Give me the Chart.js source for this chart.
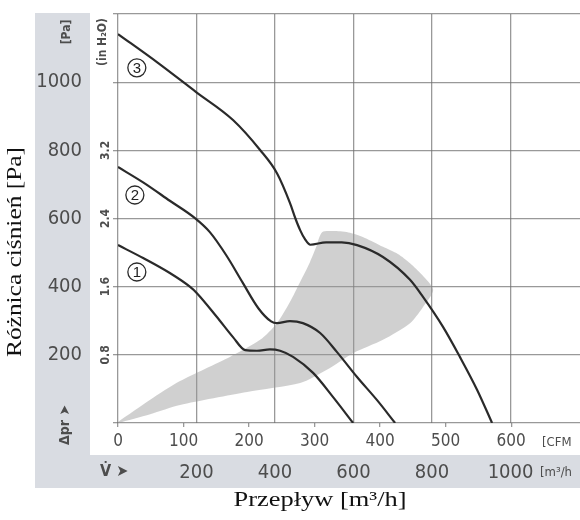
<!DOCTYPE html>
<html>
<head>
<meta charset="utf-8">
<script src="https://cdn.jsdelivr.net/npm/chart.js@4.4.1/dist/chart.umd.min.js"></script>
<style>
  html, body { margin: 0; padding: 0; background: #fff; }
  #wrap { width: 580px; height: 520px; }
</style>
</head>
<body>
<div id="wrap"><canvas id="chart" width="580" height="520"></canvas></div>
<script>
// curve 1
const flow1 = [0, 64, 132, 183, 201, 252, 293, 324, 354, 387, 413, 446, 497, 548, 599];
const dp1 = [522, 484, 440, 400, 381, 311, 252, 214, 212, 216, 212, 194, 147, 76, 0];
// curve 2
const flow2 = [0, 64, 132, 196, 234, 277, 318, 358, 390, 405, 438, 471, 515, 558, 609, 660, 706];
const dp2 = [751, 706, 652, 601, 560, 490, 411, 336, 298, 293, 299, 293, 264, 208, 135, 67, 0];
// curve 3
const flow3 = [0, 100, 199, 293, 362, 405, 438, 452, 464, 476, 490, 530, 570, 609, 675, 744, 777, 828, 871, 915, 953];
const dp3 = [1141, 1058, 971, 889, 801, 733, 646, 600, 566, 540, 523, 530, 530, 522, 487, 420, 370, 282, 194, 97, 0];

// szary obszar pracy
const zoneFlow = [0, 82, 158, 285, 362, 405, 438, 464, 489, 504, 520, 553, 591, 629, 675, 713, 744, 775, 803, 775, 744, 675, 599, 532, 464, 329, 158, 82, 0];
const zoneDp = [3, 68, 123, 194, 244, 293, 355, 414, 472, 514, 560, 563, 558, 543, 517, 496, 469, 434, 390, 337, 293, 244, 205, 156, 117, 91, 53, 26, 0];

// numery krzywych
const markFlow = [48, 43, 48];
const markDp = [443, 669, 1042];
const markText = ["1", "2", "3"];

// osie
const paTicks = [0, 200, 400, 600, 800, 1000, 1200];
const paLabels = ["", "200", "400", "600", "800", "1000", ""];
const inH2OLabels = ["0.8", "1.6", "2.4", "3.2"];
const inH2OAt = [200, 400, 600, 800];
const m3hTicks = [0, 200, 400, 600, 800, 1000];
const m3hLabels = ["", "200", "400", "600", "800", "1000"];
const cfmTicks = [0, 100, 200, 300, 400, 500, 600];
const cfmLabels = ["0", "100", "200", "300", "400", "500", "600"];

const pts = (xs, ys) => xs.map((x, i) => ({ x, y: ys[i] }));

const NARROW = "'Liberation Sans Narrow', 'DejaVu Sans Condensed', sans-serif";
const GRID = "rgba(110,110,110,0.7)";
const INK = "#4d4d4d";

const noPad = (s) => { s.paddingTop = 0; s.paddingBottom = 0; s.paddingLeft = 0; s.paddingRight = 0; };

function rotText(ctx, text, x, y, font, color) {
  ctx.save();
  ctx.translate(x, y);
  ctx.rotate(-Math.PI / 2);
  ctx.font = font;
  ctx.fillStyle = color;
  ctx.textAlign = "center";
  ctx.textBaseline = "middle";
  ctx.fillText(text, 0, 0);
  ctx.restore();
}

function fitText(ctx, text, x, y, font, width, rotate) {
  ctx.save();
  ctx.font = font;
  const w = ctx.measureText(text).width;
  ctx.translate(x, y);
  if (rotate) ctx.rotate(-Math.PI / 2);
  ctx.scale(width / w, 1);
  ctx.fillStyle = "#111";
  ctx.textAlign = "center";
  ctx.textBaseline = "middle";
  ctx.fillText(text, 0, 0);
  ctx.restore();
}

const frame = {
  id: "frame",
  beforeDraw(chart) {
    const { ctx, chartArea, scales } = chart;
    const bandLeft = 35, bandInner = 90;
    const top = chartArea.top - 1;
    const innerBottom = scales.cfm.bottom;
    const bottom = scales.x.bottom;
    ctx.save();
    ctx.fillStyle = "#d9dce2";
    ctx.fillRect(bandLeft, top, chart.width - bandLeft, bottom - top);
    ctx.fillStyle = "#fff";
    ctx.fillRect(bandInner, top, chart.width - bandInner, innerBottom - top);
    ctx.restore();
  },
  afterDatasetsDraw(chart) {
    const { ctx } = chart;
    const meta = chart.getDatasetMeta(3);
    ctx.save();
    ctx.font = "15px 'Liberation Sans', sans-serif";
    ctx.fillStyle = "#222";
    ctx.textAlign = "center";
    ctx.textBaseline = "middle";
    meta.data.forEach((p, i) => ctx.fillText(markText[i], p.x, p.y + 1));
    ctx.restore();
  },
  afterDraw(chart) {
    const { ctx, chartArea, scales } = chart;
    const y = scales.y;
    inH2OLabels.forEach((t, i) => {
      rotText(ctx, t, chartArea.left - 12, y.getPixelForValue(inH2OAt[i]), "bold 12px " + NARROW, INK);
    });
    rotText(ctx, "(in H\u2082O)", chartArea.left - 15, 42, "bold 12px " + NARROW, INK);
    rotText(ctx, "[Pa]", 67, 32, "bold 12px " + NARROW, INK);
    rotText(ctx, "\u0394pr \u27A4", 65, 425, "bold 14px " + NARROW, INK);
    ctx.save();
    ctx.fillStyle = INK;
    ctx.textBaseline = "middle";
    ctx.textAlign = "left";
    ctx.font = "bold 16px " + NARROW;
    ctx.fillText("V\u0307 \u27A4", 100, 472);
    ctx.font = "13px " + NARROW;
    ctx.fillText("[CFM", 542, 443);
    ctx.fillText("[m\u00B3/h", 540, 473);
    ctx.restore();
    fitText(ctx, "Przep\u0142yw [m\u00B3/h]", 320, 500, "21px 'Liberation Serif', serif", 173, false);
    fitText(ctx, "R\u00F3\u017Cnica ci\u015Bnie\u0144 [Pa]", 15, 252, "21px 'Liberation Serif', serif", 210, true);
  }
};

const curve = (xs, ys) => ({
  type: "line",
  data: pts(xs, ys),
  xAxisID: "x",
  yAxisID: "y",
  borderColor: "#2a2a2a",
  borderWidth: 2.2,
  pointRadius: 0,
  cubicInterpolationMode: "monotone",
  fill: false,
  order: 1
});

new Chart(document.getElementById("chart"), {
  type: "scatter",
  data: {
    datasets: [
      curve(flow1, dp1),
      curve(flow2, dp2),
      curve(flow3, dp3),
      {
        data: pts(markFlow, markDp),
        xAxisID: "x",
        yAxisID: "y",
        pointRadius: 9,
        pointBorderWidth: 1.3,
        pointBorderColor: "#2a2a2a",
        pointBackgroundColor: "#fff",
        order: 0
      },
      {
        type: "line",
        data: pts(zoneFlow, zoneDp),
        xAxisID: "x",
        yAxisID: "y",
        borderWidth: 0,
        pointRadius: 0,
        tension: 0.25,
        backgroundColor: "rgba(150,150,150,0.45)",
        fill: "shape",
        order: 10
      }
    ]
  },
  options: {
    responsive: false,
    animation: false,
    layout: { autoPadding: false, padding: { top: 14, right: 0, bottom: 32, left: 0 } },
    plugins: { legend: { display: false }, tooltip: { enabled: false } },
    scales: {
      y: {
        min: 0, max: 1200,
        afterBuildTicks: (s) => { s.ticks = paTicks.map((v) => ({ value: v })); },
        afterFit: (s) => { s.width = 118; noPad(s); },
        border: { display: false },
        grid: { color: GRID, lineWidth: 1.3, tickLength: 5 },
        ticks: {
          padding: 31,
          color: INK,
          font: { family: NARROW, size: 20 },
          callback: (v, i) => paLabels[i]
        }
      },
      x: {
        type: "linear",
        position: "bottom",
        weight: 1,
        min: 0, max: 1177,
        afterBuildTicks: (s) => { s.ticks = m3hTicks.map((v) => ({ value: v })); },
        afterFit: (s) => { s.height = 33; noPad(s); },
        border: { display: false },
        grid: { color: GRID, lineWidth: 1.3, drawTicks: false },
        ticks: {
          padding: 6,
          color: INK,
          font: { family: NARROW, size: 20 },
          callback: (v, i) => m3hLabels[i]
        }
      },
      cfm: {
        type: "linear",
        position: "bottom",
        weight: 0,
        min: 0, max: 705,
        afterBuildTicks: (s) => { s.ticks = cfmTicks.map((v) => ({ value: v })); },
        afterFit: (s) => { s.height = 32; noPad(s); },
        border: { display: false },
        grid: { drawOnChartArea: false, color: GRID, lineWidth: 1.3, tickLength: 4 },
        ticks: {
          padding: 4,
          color: INK,
          font: { family: NARROW, size: 17 },
          callback: (v, i) => cfmLabels[i]
        }
      }
    }
  },
  plugins: [frame]
});
</script>
</body>
</html>
